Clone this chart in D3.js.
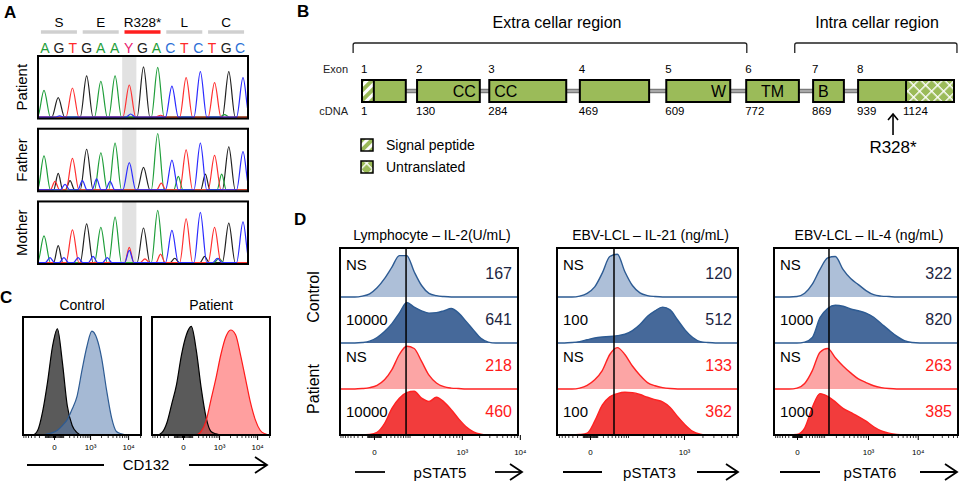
<!DOCTYPE html>
<meta charset="utf-8">
<script src="https://d3js.org/d3.v7.min.js"></script>
<html>
<head>
<style>
body { margin: 0; background: #fff; }
svg { font-family: "Liberation Sans", Arial, sans-serif; }
</style>
</head>
<body>
<svg id="fig" width="962" height="484"></svg>
<script>

// ---------- A : sequencing ----------
var aminoAcids = ["S", "E", "R328*", "L", "C"];
var bases = ["A","G","T","G","A","A","Y","G","A","C","T","C","T","G","C"];
var samples = ["Patient", "Father", "Mother"];
// [base index, channel, relative height]
var patientPeaks = [
  [0,"A",0.44],[1,"G",0.32],[1.1,"C",0.02],[2,"T",0.48],[3,"G",0.68],[4,"A",0.59],[5,"A",0.68],
  [6,"T",0.53],[6.1,"C",0.05],[7,"G",0.83],[8,"A",0.82],[8.2,"T",0.03],[9,"C",0.51],[10,"T",0.65],
  [11,"C",0.75],[12,"T",0.57],[12.7,"A",0.04],[13,"G",0.75],[14,"C",0.65]
];
var fatherPeaks = [
  [0,"A",0.56],[0.77,"T",0.14],[1,"G",0.27],[1.48,"C",0.09],[1.83,"G",0.15],[2,"T",0.52],[2.7,"C",0.15],
  [3,"G",0.67],[3.7,"C",0.18],[4,"A",0.61],[4.65,"C",0.14],[5,"A",0.77],[6,"C",0.45],[7,"G",0.37],
  [8,"A",0.93],[8.25,"T",0.11],[9,"C",0.49],[9.45,"A",0.22],[10,"T",0.66],[11,"C",0.77],[11.35,"G",0.26],
  [12,"T",0.57],[12.5,"A",0.26],[13,"G",0.71],[14,"C",0.63]
];
var motherPeaks = [
  [0,"A",0.44],[0.42,"C",0.08],[1,"G",0.28],[1.4,"C",0.08],[2,"T",0.54],[2.4,"C",0.08],[3,"G",0.64],
  [3.45,"C",0.1],[4,"A",0.58],[4.45,"C",0.08],[5,"A",0.75],[6,"T",0.25],[6,"C",0.2],[7,"G",0.57],
  [7.1,"T",0.06],[8,"A",0.86],[8.2,"T",0.14],[9,"C",0.53],[9.2,"G",0.07],[10,"T",0.72],[11,"C",0.83],
  [11.3,"G",0.1],[12,"T",0.58],[12.2,"C",0.07],[12.3,"A",0.07],[13,"G",0.65],[14,"C",0.67]
];
var mutationIndex = 6;

// ---------- B : gene (schematic units 0-100) ----------
var exonNo = [1, 2, 3, 4, 5, 6, 7, 8];
var exonCdna = [1, 130, 284, 469, 609, 772, 869, 939];
var utrCdna = 1124;
var exonStart = [0, 9.3, 21.5, 36.8, 51.4, 64.9, 76.2, 83.8];
var exonEnd = [7.4, 19.9, 34.5, 48.5, 62.2, 73.8, 81.4, 100];
var exonDomains = ["", "CC", "CC", "", "W", "TM", "B", ""];
var signalEnd = 2, utrStart = 91.9, mutationPos = 89.7;
var regions = ["Extra cellar region", "Intra cellar region"];
var regionStart = [-1.5, 73.1], regionEnd = [65, 100.5];
var legendItems = ["Signal peptide", "Untranslated"];

// ---------- C : CD132 ----------
var cGroups = ["Control", "Patient"];
var cIsotype = [
  [0,0,0,0.04,0.2,0.45,0.75,0.9,0.62,0.25,0.08,0.02,0,0,0,0,0,0,0,0,0,0,0,0,0],
  [0,0,0.02,0.1,0.26,0.43,0.68,0.85,0.92,0.72,0.4,0.15,0.03,0.01,0,0,0,0,0,0,0,0,0,0,0]
];
var cStain = [
  [0,0,0,0,0,0.01,0.02,0.04,0.08,0.13,0.22,0.33,0.55,0.75,0.88,0.82,0.65,0.38,0.15,0.03,0.01,0,0,0,0],
  [0,0,0,0,0,0,0,0,0,0,0.03,0.12,0.3,0.48,0.68,0.83,0.89,0.85,0.68,0.48,0.28,0.13,0.04,0.01,0]
];
var cMarker = "CD132";

// ---------- D : pSTAT ----------
var dTitles = ["Lymphocyte \u2013 IL-2(U/mL)", "EBV-LCL \u2013 IL-21 (ng/mL)", "EBV-LCL \u2013 IL-4 (ng/mL)"];
var dDoses = ["10000", "100", "1000"];
var dConditions = ["Control", "Patient"];
var dMFI = [[167, 641, 218, 460], [120, 512, 133, 362], [322, 820, 263, 385]];
var dMarkers = ["pSTAT5", "pSTAT3", "pSTAT6"];
var dRefLine = [83, 46.5, 135];
var dHist = [
  [
    [0,0,0,0.02,0.07,0.2,0.4,0.65,0.9,0.9,0.55,0.25,0.08,0.03,0.01,0,0,0,0,0,0,0,0,0,0],
    [0,0,0,0.01,0.04,0.12,0.25,0.42,0.65,0.88,0.78,0.7,0.65,0.66,0.7,0.75,0.65,0.47,0.28,0.1,0.02,0,0,0,0],
    [0,0,0,0.01,0.03,0.08,0.2,0.42,0.75,0.93,0.88,0.6,0.3,0.13,0.05,0.02,0.01,0,0,0,0,0,0,0,0],
    [0,0,0,0,0.01,0.06,0.25,0.58,0.8,0.92,0.95,0.8,0.73,0.82,0.72,0.55,0.35,0.18,0.07,0.02,0,0,0,0,0]
  ],
  [
    [0,0,0,0.02,0.08,0.22,0.52,0.88,0.93,0.55,0.25,0.09,0.03,0.01,0,0,0,0,0,0,0,0,0,0,0],
    [0,0,0.01,0.03,0.07,0.11,0.13,0.14,0.16,0.19,0.27,0.4,0.58,0.7,0.78,0.72,0.5,0.28,0.12,0.03,0.01,0,0,0,0],
    [0,0,0,0.02,0.08,0.2,0.4,0.75,0.9,0.75,0.5,0.3,0.14,0.07,0.03,0.01,0,0,0,0,0,0,0,0,0],
    [0,0,0,0.01,0.04,0.3,0.65,0.83,0.9,0.93,0.92,0.88,0.82,0.77,0.72,0.6,0.4,0.22,0.08,0.02,0,0,0,0,0]
  ],
  [
    [0,0,0,0.01,0.08,0.28,0.6,0.85,0.88,0.6,0.4,0.27,0.14,0.05,0.02,0.01,0,0,0,0,0,0,0,0,0],
    [0,0,0,0,0.02,0.12,0.55,0.75,0.82,0.8,0.74,0.7,0.65,0.56,0.42,0.28,0.15,0.05,0.01,0,0,0,0,0,0],
    [0,0,0,0.02,0.12,0.4,0.8,0.88,0.68,0.5,0.35,0.22,0.14,0.07,0.03,0.01,0,0,0,0,0,0,0,0,0],
    [0,0,0,0.01,0.15,0.6,0.9,0.84,0.72,0.58,0.49,0.4,0.3,0.18,0.09,0.04,0.01,0,0,0,0,0,0,0,0]
  ]
];

// ---------------------------------------------------------------
var svg = d3.select("#fig");
var defs = svg.append("defs");
var green = "#9bbb59";
var sup = {3: "\u00b3", 4: "\u2074", 5: "\u2075"};

// panel letters
svg.selectAll(".plabel")
  .data([["A", 4, 18], ["B", 297, 17], ["C", 0, 303], ["D", 294, 225]])
  .enter().append("text")
    .attr("x", function(d){ return d[1]; })
    .attr("y", function(d){ return d[2]; })
    .attr("font-size", 17).attr("font-weight", "bold")
    .text(function(d){ return d[0]; });

function arrow(g, x1, x2, y) {
  g.append("line").attr("x1", x1).attr("x2", x2).attr("y1", y).attr("y2", y)
    .attr("stroke", "#000").attr("stroke-width", 1.8);
  g.append("polyline")
    .attr("points", [[x2 - 12, y - 8], [x2, y], [x2 - 12, y + 8]].join(" "))
    .attr("fill", "none").attr("stroke", "#000").attr("stroke-width", 1.8);
}

// ============ A ============
var gA = svg.append("g");
var xPeak = d3.scaleLinear().domain([0, 14]).range([44, 243]);
var xBase = d3.scaleLinear().domain([0, 14]).range([45, 240]);
var chromY = d3.scaleBand().domain(samples).range([56, 264]).paddingInner(0.14);
var channelColor = {A: "#1f9e3a", C: "#2b2bff", G: "#222222", T: "#ff3030"};
var letterColor = {A: "#1f9e3a", C: "#2b6fd6", G: "#222222", T: "#ff2a2a", Y: "#e8196e"};

aminoAcids.forEach(function(aa, i) {
  var cx = xBase(3 * i + 1);
  gA.append("line").attr("x1", cx - 18).attr("x2", cx + 18).attr("y1", 32).attr("y2", 32)
    .attr("stroke", aa.indexOf("*") >= 0 ? "#ff1f1f" : "#d0d0d0").attr("stroke-width", 3.5);
  gA.append("text").attr("x", cx).attr("y", 27).attr("text-anchor", "middle")
    .attr("font-size", 13.5).text(aa);
});

gA.selectAll(".base").data(bases).enter().append("text")
  .attr("x", function(d, i){ return xBase(i); })
  .attr("y", 53).attr("text-anchor", "middle").attr("font-size", 14)
  .attr("fill", function(d){ return letterColor[d]; })
  .text(function(d){ return d; });

var allPeaks = {Patient: patientPeaks, Father: fatherPeaks, Mother: motherPeaks};

function trace(peaks, ch) {
  var pts = [[-1, 0]];
  peaks.filter(function(p){ return p[1] === ch; })
    .sort(function(a, b){ return a[0] - b[0]; })
    .forEach(function(p) {
      var w = p[2] < 0.3 ? 0.32 : 0.45;
      pts.push([p[0] - w, 0], [p[0], p[2]], [p[0] + w, 0]);
    });
  pts.push([15, 0]);
  return pts;
}

samples.forEach(function(s, si) {
  var top = chromY(s), h = chromY.bandwidth();
  var x0 = 38, x1 = 248;
  var yv = d3.scaleLinear().domain([0, 1]).range([top + h - 1.5, top + h - 62]);
  defs.append("clipPath").attr("id", "chrom" + si).append("rect")
    .attr("x", x0).attr("y", top).attr("width", x1 - x0).attr("height", h);
  var g = gA.append("g").attr("clip-path", "url(#chrom" + si + ")");
  g.append("rect").attr("x", xPeak(mutationIndex - 0.5)).attr("y", top)
    .attr("width", xPeak(mutationIndex + 0.5) - xPeak(mutationIndex - 0.5)).attr("height", h)
    .attr("fill", "#e2e2e2");
  ["G", "A", "T", "C"].forEach(function(ch) {
    g.append("path").datum(trace(allPeaks[s], ch))
      .attr("d", d3.line().x(function(d){ return xPeak(d[0]); }).y(function(d){ return yv(d[1]); })
        .curve(d3.curveMonotoneX))
      .attr("fill", "none").attr("stroke", channelColor[ch]).attr("stroke-width", 1.2);
  });
  gA.append("rect").attr("x", x0).attr("y", top).attr("width", x1 - x0).attr("height", h)
    .attr("fill", "none").attr("stroke", "#000").attr("stroke-width", 2);
  gA.append("text").attr("transform", "translate(27," + (top + h / 2) + ") rotate(-90)")
    .attr("text-anchor", "middle").attr("font-size", 15).text(s);
});

// ============ B ============
var gB = svg.append("g");
var xB = d3.scaleLinear().domain([0, 100]).range([362, 954]);
var bTop = 80, bH = 22;

var pSig = defs.append("pattern").attr("id", "sig").attr("patternUnits", "userSpaceOnUse")
  .attr("width", 7).attr("height", 7).attr("patternTransform", "rotate(45)");
pSig.append("rect").attr("width", 7).attr("height", 7).attr("fill", green);
pSig.append("rect").attr("width", 3).attr("height", 7).attr("fill", "#fff");
var pUtr = defs.append("pattern").attr("id", "utr").attr("patternUnits", "userSpaceOnUse")
  .attr("width", 8.5).attr("height", 8.5).attr("patternTransform", "rotate(45)");
pUtr.append("rect").attr("width", 8.5).attr("height", 8.5).attr("fill", green);
pUtr.append("rect").attr("width", 1.4).attr("height", 8.5).attr("fill", "#fff");
pUtr.append("rect").attr("width", 8.5).attr("height", 1.4).attr("fill", "#fff");

regions.forEach(function(r, i) {
  var a = xB(regionStart[i]), b = xB(regionEnd[i]);
  gB.append("path").attr("d", "M" + a + ",53 L" + a + ",45 Q" + a + ",43 " + (a + 2) + ",43 L" + (b - 2) + ",43 Q" + b + ",43 " + b + ",45 L" + b + ",53")
    .attr("fill", "none").attr("stroke", "#222").attr("stroke-width", 1.3);
  gB.append("text").attr("x", i === 0 ? 557 : 877).attr("y", 28).attr("text-anchor", "middle")
    .attr("font-size", 16).text(r);
});

// connectors
exonNo.slice(0, -1).forEach(function(n, i) {
  var a = xB(exonEnd[i]), b = xB(exonStart[i + 1]);
  gB.append("line").attr("x1", a).attr("x2", b).attr("y1", bTop + bH / 2).attr("y2", bTop + bH / 2)
    .attr("stroke", "#7a7a7a").attr("stroke-width", 4.5);
  gB.append("line").attr("x1", a).attr("x2", b).attr("y1", bTop + bH / 2).attr("y2", bTop + bH / 2)
    .attr("stroke", "#c8c8c8").attr("stroke-width", 1.2);
});

var anchorOf = {CC: ["end", "start"], W: ["end"], TM: ["middle"], B: ["start"]};
var seenCC = 0;
exonNo.forEach(function(n, i) {
  var a = xB(exonStart[i]), b = xB(exonEnd[i]);
  gB.append("rect").attr("x", a).attr("y", bTop).attr("width", b - a).attr("height", bH).attr("fill", green);
  if (i === 0) {
    gB.append("rect").attr("x", a).attr("y", bTop).attr("width", xB(signalEnd) - a).attr("height", bH).attr("fill", "url(#sig)");
    gB.append("line").attr("x1", xB(signalEnd)).attr("x2", xB(signalEnd)).attr("y1", bTop).attr("y2", bTop + bH).attr("stroke", "#000").attr("stroke-width", 2);
  }
  if (i === exonNo.length - 1) {
    gB.append("rect").attr("x", xB(utrStart)).attr("y", bTop).attr("width", b - xB(utrStart)).attr("height", bH).attr("fill", "url(#utr)");
    gB.append("line").attr("x1", xB(utrStart)).attr("x2", xB(utrStart)).attr("y1", bTop).attr("y2", bTop + bH).attr("stroke", "#000").attr("stroke-width", 2);
    gB.append("text").attr("x", xB(utrStart) - 3).attr("y", 115).attr("font-size", 11.5).text(utrCdna);
  }
  gB.append("rect").attr("x", a).attr("y", bTop).attr("width", b - a).attr("height", bH)
    .attr("fill", "none").attr("stroke", "#000").attr("stroke-width", 2);
  gB.append("text").attr("x", a - 1).attr("y", 73).attr("font-size", 11.5).text(n);
  gB.append("text").attr("x", a - 1).attr("y", 115).attr("font-size", 11.5).text(exonCdna[i]);
  var dom = exonDomains[i];
  if (dom) {
    var anc = dom === "CC" ? anchorOf.CC[seenCC++] : anchorOf[dom][0];
    var tx = anc === "end" ? b - 4 : anc === "start" ? a + 5 : (a + b) / 2;
    gB.append("text").attr("x", tx).attr("y", bTop + 17).attr("text-anchor", anc)
      .attr("font-size", 16).text(dom);
  }
});
gB.append("text").attr("x", 348).attr("y", 73).attr("text-anchor", "end").attr("font-size", 11).attr("fill", "#222").text("Exon");
gB.append("text").attr("x", 348).attr("y", 115).attr("text-anchor", "end").attr("font-size", 11).attr("fill", "#222").text("cDNA");

// mutation arrow
var mx = xB(mutationPos);
gB.append("line").attr("x1", mx).attr("x2", mx).attr("y1", 135).attr("y2", 114).attr("stroke", "#000").attr("stroke-width", 1.6);
gB.append("polyline").attr("points", [[mx - 5, 120], [mx, 114], [mx + 5, 120]].join(" "))
  .attr("fill", "none").attr("stroke", "#000").attr("stroke-width", 1.6);
gB.append("text").attr("x", mx).attr("y", 153).attr("text-anchor", "middle").attr("font-size", 17).text("R328*");

// legend
legendItems.forEach(function(t, i) {
  var y = 139 + i * 22;
  gB.append("rect").attr("x", 361).attr("y", y).attr("width", 12).attr("height", 12)
    .attr("fill", i === 0 ? "url(#sig)" : "url(#utr)").attr("stroke", "#000").attr("stroke-width", 1.5);
  gB.append("text").attr("x", 386).attr("y", y + 11).attr("font-size", 14).text(t);
});

// ============ axis helper ============
function flowAxis(g, scale, majors, y, pad) {
  var dom = scale.domain(), minors = [];
  [-1, 1].forEach(function(s) {
    [1, 10, 100, 1000, 10000].forEach(function(dec) {
      for (var k = 1; k < 10; k++) minors.push(s * k * dec);
    });
  });
  minors = minors.filter(function(v){ return v > dom[0] && v < dom[1] && majors.indexOf(v) < 0; });
  g.append("g").attr("transform", "translate(0," + y + ")")
    .call(d3.axisBottom(scale).tickValues(minors).tickSize(3).tickFormat(""))
    .call(function(a){ a.select(".domain").remove(); a.selectAll("line").attr("stroke-width", 0.8); });
  g.append("g").attr("transform", "translate(0," + y + ")")
    .call(d3.axisBottom(scale).tickValues(majors).tickSize(5).tickPadding(pad)
      .tickFormat(function(d){ return d === 0 ? "0" : "10" + sup[Math.round(Math.log10(d))]; }))
    .call(function(a){
      a.select(".domain").remove();
      a.selectAll("text").attr("font-size", 8).attr("font-family", "Liberation Sans, Arial, sans-serif");
    });
}

// ============ C ============
var gC = svg.append("g");
var cTop = 317, cBottom = 435;
var cBoxX = [[23, 141], [152, 270]];
var cFill = ["#5b7fb0", "#ff5050"], cStroke = ["#2d5b93", "#ff1a1a"];
cGroups.forEach(function(grp, i) {
  var x0 = cBoxX[i][0], x1 = cBoxX[i][1];
  var xs = d3.scaleSymlog().constant(145).domain([-715, 21100]).range([x0, x1]);
  var xb = d3.scaleLinear().domain([0, cIsotype[i].length - 1]).range([x0, x1]);
  var yv = d3.scaleLinear().domain([0, 1]).range([cBottom, cTop]);
  var area = d3.area().x(function(d, k){ return xb(k); }).y0(cBottom).y1(yv).curve(d3.curveMonotoneX);
  var line = d3.line().x(function(d, k){ return xb(k); }).y(yv).curve(d3.curveMonotoneX);
  defs.append("clipPath").attr("id", "cclip" + i).append("rect")
    .attr("x", x0).attr("y", cTop).attr("width", x1 - x0).attr("height", cBottom - cTop);
  var g = gC.append("g").attr("clip-path", "url(#cclip" + i + ")");
  g.append("path").datum(cIsotype[i]).attr("d", area).attr("fill", "#5a5a5a");
  g.append("path").datum(cStain[i]).attr("d", area).attr("fill", cFill[i]).attr("fill-opacity", 0.55);
  g.append("path").datum(cIsotype[i]).attr("d", line).attr("fill", "none").attr("stroke", "#000").attr("stroke-width", 1.2);
  g.append("path").datum(cStain[i]).attr("d", line).attr("fill", "none").attr("stroke", cStroke[i]).attr("stroke-width", 1.2);
  gC.append("rect").attr("x", x0).attr("y", cTop).attr("width", x1 - x0).attr("height", cBottom - cTop)
    .attr("fill", "none").attr("stroke", "#000").attr("stroke-width", 2);
  gC.append("text").attr("x", (x0 + x1) / 2).attr("y", 310).attr("text-anchor", "middle").attr("font-size", 14).text(grp);
  flowAxis(gC, xs, i === 0 ? [0, 1000, 10000] : [0, 1000, 10000], cBottom, 4);
});
gC.append("line").attr("x1", 27).attr("x2", 104).attr("y1", 465).attr("y2", 465).attr("stroke", "#000").attr("stroke-width", 1.8);
gC.append("text").attr("x", 146).attr("y", 470).attr("text-anchor", "middle").attr("font-size", 15).text(cMarker);
arrow(gC, 189, 267, 465);

// ============ D ============
var gD = svg.append("g");
var dBoxX = [[340, 518], [557, 738], [774, 958]];
var dTop = 248, dBottom = 435;
var rowY = d3.scaleBand().domain(d3.range(4)).range([251, 435]);
var rowFill = ["#adbfd8", "#46699a", "#fca5a5", "#f23c3c"];
var rowStroke = ["#2d5b93", "#2d5b93", "#ff2222", "#ff2222"];
var mfiColor = ["#1c2541", "#1c2541", "#ff1a1a", "#ff1a1a"];
var dConst = [33, 33, 41];
var dDomain = [[-92, 9300], [-77.6, 7444], [-76, 62800]];
var dMajors = [[0, 1000, 10000], [0, 1000], [0, 1000, 10000]];
var dArrowX = [[355, 385, 495, 522], [563, 602, 697, 738], [780, 820, 920, 957]];

dTitles.forEach(function(title, p) {
  var x0 = dBoxX[p][0], x1 = dBoxX[p][1];
  var xs = d3.scaleSymlog().constant(dConst[p]).domain(dDomain[p]).range([x0, x1]);
  defs.append("clipPath").attr("id", "dclip" + p).append("rect")
    .attr("x", x0).attr("y", dTop).attr("width", x1 - x0).attr("height", dBottom - dTop);
  var hg = gD.append("g").attr("clip-path", "url(#dclip" + p + ")");
  var rowLabels = ["NS", dDoses[p], "NS", dDoses[p]];

  dHist[p].forEach(function(bins, r) {
    var xb = d3.scaleLinear().domain([0, bins.length - 1]).range([x0, x1]);
    var base = rowY(r) + rowY.bandwidth();
    var yv = d3.scaleLinear().domain([0, 1]).range([base, base - rowY.bandwidth()]);
    hg.append("path").datum(bins)
      .attr("d", d3.area().x(function(d, k){ return xb(k); }).y0(base).y1(yv).curve(d3.curveMonotoneX))
      .attr("fill", rowFill[r]);
    hg.append("path").datum(bins)
      .attr("d", d3.line().x(function(d, k){ return xb(k); }).y(yv).curve(d3.curveMonotoneX))
      .attr("fill", "none").attr("stroke", rowStroke[r]).attr("stroke-width", 1.4);
    gD.append("text").attr("x", x0 + 6).attr("y", rowY(r) + (rowLabels[r] === "NS" ? 19 : 28))
      .attr("font-size", 15).text(rowLabels[r]);
    gD.append("text").attr("x", x1 - 6).attr("y", rowY(r) + 28).attr("text-anchor", "end")
      .attr("font-size", 16).attr("fill", mfiColor[r]).text(dMFI[p][r]);
  });

  hg.append("line").attr("x1", xs(dRefLine[p])).attr("x2", xs(dRefLine[p]))
    .attr("y1", dTop).attr("y2", dBottom).attr("stroke", "#000").attr("stroke-width", 1.5);
  gD.append("rect").attr("x", x0).attr("y", dTop).attr("width", x1 - x0).attr("height", dBottom - dTop)
    .attr("fill", "none").attr("stroke", "#000").attr("stroke-width", 2);
  gD.append("text").attr("x", (x0 + x1) / 2 + 3).attr("y", 240).attr("text-anchor", "middle")
    .attr("font-size", 14).text(title);
  flowAxis(gD, xs, dMajors[p], dBottom, 9);

  var ax = dArrowX[p];
  gD.append("line").attr("x1", ax[0]).attr("x2", ax[1]).attr("y1", 472).attr("y2", 472).attr("stroke", "#000").attr("stroke-width", 1.8);
  gD.append("text").attr("x", (ax[1] + ax[2]) / 2).attr("y", 478).attr("text-anchor", "middle").attr("font-size", 15).text(dMarkers[p]);
  arrow(gD, ax[2], ax[3], 472);
});

dConditions.forEach(function(c, i) {
  gD.append("text").attr("transform", "translate(319," + (rowY(2 * i) + rowY.bandwidth()) + ") rotate(-90)")
    .attr("text-anchor", "middle").attr("font-size", 16).text(c);
});

</script>
</body>
</html>
